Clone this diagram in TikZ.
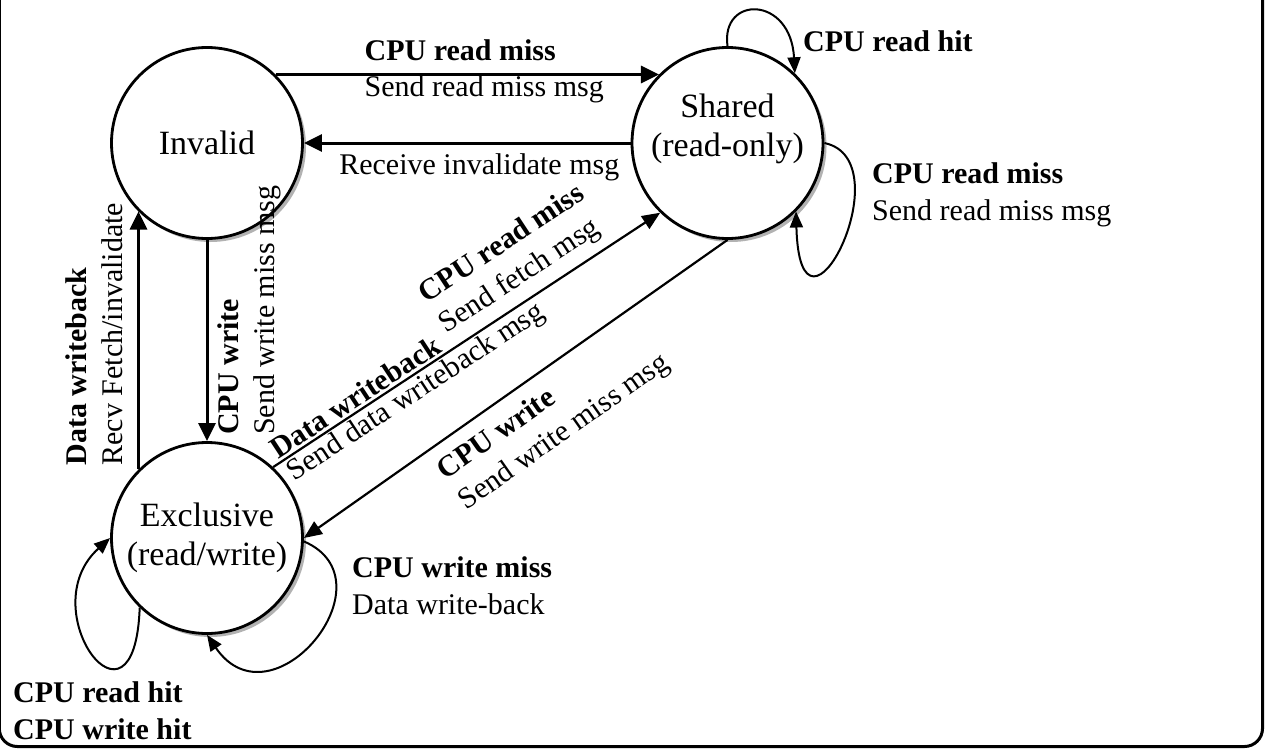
\documentclass[tikz,border=0pt]{standalone}
\usepackage{fontspec}
\setmainfont{Liberation Serif}
\usetikzlibrary{arrows.meta,shadows}

\begin{document}
\begin{tikzpicture}[
    x=1pt, y=-1pt,
    every node/.style={font=\fontsize{30}{36.5}\selectfont, inner sep=0pt},
    statefont/.style={font=\fontsize{34}{39}\selectfont},
    state/.style={circle, draw, line width=2.8pt, fill=white, minimum size=191pt, statefont,
        drop shadow={shadow xshift=3.5pt, shadow yshift=-3.5pt, fill=gray!60, opacity=1}},
    move/.style={-{Triangle[length=18pt,width=17pt]}, line width=3pt},
    diag/.style={-{Triangle[length=18pt,width=15pt]}, line width=2.2pt},
    selfloop/.style={-{Triangle[length=16pt,width=13pt]}, line width=2pt},
    lbl/.style={align=left}
]
\useasboundingbox (0,0) rectangle (1265,749);
\draw[line width=3pt, rounded corners=18pt] (-0.7,0) |- (1262.5,746.5) -- (1262.5,0);

\node[state] (Invalid) at (207,143) {Invalid};
\node[state, label={[statefont, align=center, yshift=14pt]center:Shared\\(read-only)}] (Shared) at (727.5,143) {};
\node[state, align=center] (Exclusive) at (207,538) {Exclusive\\(read/write)};

\draw[move] (Invalid.45) -- node[midway, lbl, xshift=17pt, yshift=3pt] (rdmiss) {\textbf{CPU read miss}\\Send read miss msg} (Shared.135);
\draw[move] (Shared.180) -- node[midway, below, inner sep=9pt, xshift=12pt] (invmsg) {Receive invalidate msg} (Invalid.0);
\draw[move] (Exclusive.135) -- node[pos=0.01, sloped, anchor=south west, inner xsep=0pt, inner ysep=14pt, lbl] (fetchinv) {\textbf{Data writeback}\\Recv Fetch/invalidate} (Invalid.225);
\draw[move] (Invalid.270) -- (Exclusive.90);
\node[lbl, rotate=90, anchor=north west] (wrmiss) at (217,435) {\textbf{CPU write}\\Send write miss msg};

\draw[diag] (Exclusive.47)
    -- node[pos=0.012, sloped, anchor=south west, inner sep=2pt] (wbdata) {\textbf{Data writeback}}
       node[pos=0.015, sloped, anchor=north west, inner sep=2pt] (wbmsg) {Send data writeback msg}
       node[pos=0.469, sloped, anchor=south west, inner xsep=0pt, inner ysep=8.5pt, lbl] (fetchmsg) {\textbf{CPU read miss}\\Send fetch msg}
    (Shared.226);
\draw[diag] (Shared.270) -- node[pos=0.714, sloped, anchor=north west, inner xsep=0pt, inner ysep=12.7pt, lbl] (shwrmiss) {\textbf{CPU write}\\Send write miss msg} (Exclusive.0);

% self loops
\draw[selfloop] (Shared.90) .. controls +(-7,-51) and +(-4,-78) .. (Shared.46);
\node[anchor=base west] (rdhit) at (803,52) {\textbf{CPU read hit}};
\draw[selfloop] (Shared.0) .. controls +(81,17) and +(4,158) .. (Shared.315);
\node[lbl, anchor=north west] (shrdmiss) at (872,162.7) {\textbf{CPU read miss}\\Send read miss msg};
\draw[selfloop] (Exclusive.226) .. controls +(-5,142) and +(-80,72) .. (Exclusive.180);
\node[lbl, anchor=north west] (exhits) at (13,681.7) {\textbf{CPU read hit}\\\textbf{CPU write hit}};
\draw[selfloop] (Exclusive.-2) .. controls +(91,39) and +(65,95) .. (Exclusive.270);
\node[lbl, anchor=north west] (exwrmiss) at (352,556.7) {\textbf{CPU write miss}\\Data write-back};
\end{tikzpicture}
\end{document}
